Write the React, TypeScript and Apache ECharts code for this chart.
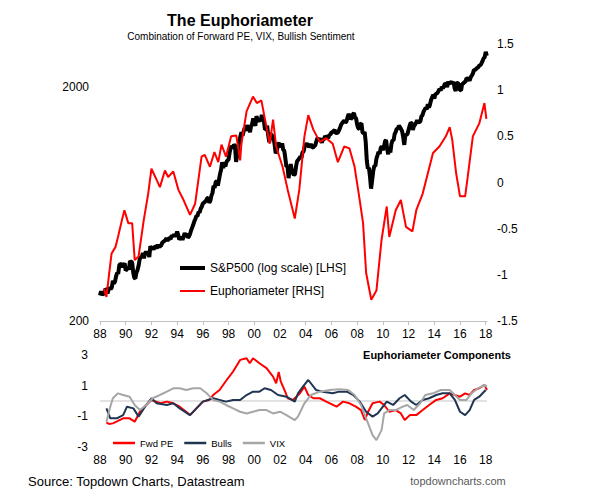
import React, { useEffect, useRef } from "react";
import * as echarts from "echarts";

// S&P 500, monthly, Jan 1988 .. Feb 2018
const spxStart = 1988;
const spx = [
  257, 268, 259, 261, 262, 274, 272, 262, 272, 279, 274, 278,
  297, 289, 295, 310, 321, 318, 346, 351, 349, 340, 346, 353,
  329, 332, 340, 331, 361, 358, 356, 323, 306, 304, 322, 330,
  344, 367, 375, 375, 390, 371, 388, 395, 388, 392, 375, 417,
  409, 413, 404, 415, 415, 408, 424, 414, 418, 419, 431, 436,
  439, 443, 452, 440, 450, 451, 448, 464, 459, 468, 462, 466,
  482, 467, 446, 451, 457, 444, 458, 475, 463, 472, 454, 459,
  470, 487, 501, 515, 533, 545, 562, 562, 584, 582, 605, 616,
  636, 640, 646, 654, 669, 671, 640, 652, 687, 705, 757, 741,
  786, 791, 757, 801, 848, 885, 954, 899, 947, 915, 955, 970,
  980, 1049, 1102, 1112, 1091, 1134, 1121, 957, 1017, 1099, 1164, 1229,
  1280, 1238, 1286, 1335, 1302, 1373, 1329, 1320, 1283, 1363, 1389, 1469,
  1394, 1366, 1499, 1452, 1421, 1455, 1431, 1518, 1437, 1429, 1315, 1320,
  1366, 1240, 1160, 1249, 1256, 1224, 1211, 1134, 1041, 1060, 1139, 1148,
  1130, 1107, 1147, 1077, 1067, 990, 912, 916, 815, 886, 936, 880,
  856, 841, 848, 917, 964, 975, 990, 1008, 996, 1051, 1058, 1112,
  1131, 1145, 1126, 1107, 1121, 1141, 1102, 1104, 1115, 1130, 1174, 1212,
  1181, 1204, 1181, 1157, 1192, 1191, 1234, 1220, 1229, 1207, 1249, 1248,
  1280, 1281, 1295, 1311, 1270, 1270, 1277, 1304, 1336, 1378, 1401, 1418,
  1438, 1407, 1421, 1482, 1531, 1503, 1455, 1474, 1527, 1549, 1481, 1468,
  1379, 1331, 1323, 1386, 1400, 1280, 1267, 1283, 1165, 969, 896, 903,
  826, 735, 798, 873, 919, 919, 987, 1021, 1057, 1036, 1096, 1115,
  1074, 1104, 1169, 1187, 1089, 1031, 1102, 1049, 1141, 1183, 1181, 1258,
  1286, 1327, 1326, 1364, 1345, 1321, 1292, 1219, 1131, 1253, 1247, 1258,
  1312, 1366, 1408, 1398, 1310, 1362, 1379, 1407, 1441, 1412, 1416, 1426,
  1498, 1515, 1569, 1598, 1631, 1606, 1686, 1633, 1682, 1757, 1806, 1848,
  1783, 1859, 1872, 1884, 1924, 1960, 1931, 2003, 1972, 2018, 2068, 2059,
  1995, 2105, 2068, 2086, 2107, 2063, 2104, 1972, 1920, 2079, 2080, 2044,
  1940, 1932, 2060, 2065, 2097, 2099, 2174, 2171, 2168, 2126, 2199, 2239,
  2279, 2364, 2363, 2384, 2412, 2423, 2470, 2472, 2519, 2575, 2648, 2674,
  2824, 2714,
];

// Euphoriameter composite [year, value] (RHS)
const euphoria = [
  [1988.3, -1.15], [1988.5, -1.24], [1988.7, -1.0], [1988.9, -0.77], [1989.2, -0.7],
  [1989.4, -0.59], [1989.7, -0.41], [1989.9, -0.3], [1990.2, -0.44], [1990.5, -0.44],
  [1990.7, -0.84], [1991.0, -0.8], [1991.4, -0.41], [1991.75, -0.12], [1992.0, 0.15],
  [1992.3, 0.06], [1992.66, -0.05], [1993.05, 0.13], [1993.3, 0.06], [1993.7, 0.12],
  [1994.1, -0.08], [1994.5, -0.19], [1995.0, -0.35], [1995.4, -0.23], [1995.9, 0.28],
  [1996.15, 0.3], [1996.55, 0.17], [1996.9, 0.33], [1997.2, 0.22], [1997.45, 0.41],
  [1997.8, 0.28], [1998.2, 0.5], [1998.6, 0.51], [1998.9, 0.24], [1999.0, 0.42],
  [1999.4, 0.77], [1999.9, 0.93], [2000.2, 0.86], [2000.55, 0.89], [2000.95, 0.6],
  [2001.2, 0.42], [2001.46, 0.68], [2001.7, 0.39], [2002.2, 0.17], [2002.6, -0.08],
  [2003.15, -0.39], [2003.5, -0.08], [2003.9, 0.5], [2004.2, 0.73], [2004.6, 0.57],
  [2005.1, 0.44], [2005.6, 0.48], [2006.1, 0.42], [2006.5, 0.22], [2007.0, 0.39],
  [2007.4, 0.37], [2007.8, 0.17], [2008.2, -0.19], [2008.46, -0.44], [2008.7, -0.98],
  [2009.1, -1.27], [2009.5, -1.17], [2009.9, -0.62], [2010.3, -0.26], [2010.5, -0.59],
  [2011.0, -0.3], [2011.4, -0.19], [2011.8, -0.48], [2012.3, -0.53], [2012.6, -0.3],
  [2013.1, -0.12], [2013.5, 0.1], [2013.9, 0.32], [2014.4, 0.39], [2014.9, 0.5],
  [2015.2, 0.6], [2015.4, 0.46], [2015.7, 0.1], [2016.0, -0.15], [2016.4, -0.15],
  [2016.6, 0.06], [2017.0, 0.5], [2017.5, 0.64], [2017.9, 0.86], [2018.05, 0.69],
];

// Components [year, z-score]
const fwdPE = [
  [1988.5, -1.4], [1988.7, -1.5], [1989.0, -1.46], [1989.4, -1.3], [1989.8, -1.13],
  [1990.3, -1.13], [1990.7, -1.35], [1991.1, -0.7], [1991.6, -0.26], [1992.0, 0.07],
  [1992.7, -0.15], [1993.2, -0.04], [1993.7, -0.15], [1994.2, -0.37], [1994.7, -0.7],
  [1995.0, -0.92], [1995.5, -0.48], [1996.0, -0.04], [1996.5, 0.07], [1996.8, 0.39],
  [1997.3, 0.72], [1997.85, 1.37], [1998.35, 1.92], [1998.9, 2.68], [1999.4, 2.79],
  [1999.65, 2.46], [1999.9, 2.79], [2000.4, 2.46], [2000.95, 2.14], [2001.46, 1.59],
  [2001.7, 1.16], [2001.9, 1.9], [2002.05, 1.3], [2002.4, 0.61], [2002.6, 0.18],
  [2003.0, 0.07], [2003.5, 0.45], [2003.9, 0.94], [2004.2, 0.39], [2004.6, 0.18],
  [2005.1, 0.18], [2005.6, -0.04], [2006.4, -0.37], [2006.9, -0.04], [2007.4, -0.15],
  [2007.9, -0.37], [2008.3, -0.59], [2008.6, -1.24], [2008.85, -0.7], [2009.2, -0.15],
  [2009.75, -0.04], [2010.1, -0.26], [2010.5, -0.7], [2011.0, -0.59], [2011.4, -0.81],
  [2011.7, -1.24], [2012.1, -0.92], [2012.6, -0.92], [2013.1, -0.59], [2013.6, -0.26],
  [2014.15, 0.07], [2014.65, 0.18], [2015.2, 0.5], [2015.6, 0.39], [2016.0, 0.28],
  [2016.4, 0.5], [2016.75, 0.39], [2017.1, 0.72], [2017.5, 0.83], [2017.9, 1.05],
  [2018.1, 0.72],
];

const bulls = [
  [1988.5, -0.48], [1988.8, -1.13], [1989.3, -1.13], [1989.8, -0.92], [1990.1, -0.37],
  [1990.6, -0.48], [1991.0, -1.02], [1991.5, -0.37], [1992.0, 0.18], [1992.4, -0.15],
  [1993.2, -0.26], [1993.7, -0.15], [1994.2, -0.48], [1995.0, -0.92], [1995.5, -0.48],
  [1996.0, -0.04], [1996.8, 0.18], [1997.3, 0.07], [1997.8, -0.04], [1998.35, 0.07],
  [1998.9, 0.07], [1999.4, 0.39], [1999.9, 0.61], [2000.4, 0.61], [2000.8, 0.83],
  [2001.3, 0.72], [2001.85, 0.39], [2002.5, 0.28], [2003.15, -0.04], [2003.4, 0.5],
  [2003.8, 0.95], [2004.2, 1.37], [2004.8, 0.72], [2005.3, 0.61], [2006.1, 0.5],
  [2006.6, 0.61], [2007.2, 0.61], [2007.7, 0.39], [2008.2, -0.04], [2008.7, -0.7],
  [2009.2, -1.02], [2009.6, -0.81], [2010.3, -0.04], [2010.8, -0.26], [2011.3, 0.18],
  [2011.7, 0.39], [2012.2, -0.04], [2012.6, -0.26], [2013.1, 0.07], [2013.6, 0.18],
  [2014.15, 0.39], [2014.65, 0.5], [2015.2, 0.5], [2015.6, 0.07], [2016.0, -0.7],
  [2016.4, -0.92], [2016.75, -0.59], [2017.1, 0.07], [2017.5, 0.28], [2018.0, 0.72],
];

const vix = [
  [1988.5, -1.35], [1988.8, -0.37], [1989.0, 0.18], [1989.4, 0.5], [1989.8, 0.39],
  [1990.3, 0.28], [1990.7, -0.26], [1991.1, -0.59], [1991.6, -0.26], [1992.1, 0.18],
  [1992.65, 0.39], [1993.2, 0.61], [1993.7, 0.83], [1994.2, 0.83], [1994.7, 0.72],
  [1995.25, 0.83], [1995.8, 0.83], [1996.3, 0.5], [1996.8, 0.07], [1997.3, -0.04],
  [1997.8, -0.26], [1998.35, -0.48], [1998.9, -0.7], [1999.4, -0.81], [1999.9, -0.7],
  [2000.4, -0.59], [2000.95, -0.59], [2001.46, -0.81], [2002.0, -0.7], [2002.5, -0.92],
  [2003.15, -1.24], [2003.4, -1.02], [2003.9, -0.15], [2004.4, 0.39], [2005.1, 0.61],
  [2005.85, 0.72], [2006.6, 0.76], [2007.3, 0.72], [2007.8, 0.39], [2008.3, -0.26],
  [2008.85, -1.46], [2009.2, -2.22], [2009.5, -2.55], [2009.9, -1.9], [2010.1, -0.81],
  [2010.5, -0.59], [2011.0, -0.59], [2011.55, -0.37], [2011.9, -0.26], [2012.4, -0.59],
  [2012.9, -0.15], [2013.3, 0.39], [2013.9, 0.5], [2014.5, 0.72], [2015.2, 0.72],
  [2015.6, 0.39], [2016.0, 0.07], [2016.5, 0.07], [2016.9, 0.5], [2017.4, 0.83],
  [2017.9, 1.05], [2018.1, 0.94],
];

const yearTicks = [1988, 1990, 1992, 1994, 1996, 1998, 2000, 2002, 2004, 2006, 2008, 2010, 2012, 2014, 2016, 2018];
const leftTicks = [200, 2000];
const compTicks = [-3, -1, 1, 3];

const FONT = "'Liberation Sans', Arial, sans-serif";

export default function App() {
  const ref = useRef<HTMLDivElement>(null);
  useEffect(() => {
    if (!ref.current) return;
    const chart = echarts.init(ref.current, null, { renderer: "svg" });
    const yr = (v: number) => String(Math.round(v) % 100).padStart(2, "0");
    const xCommon = {
      type: "value",
      min: 1988,
      max: 2018.1,
      splitLine: { show: false },
    };
    const legendText = (size: number) => ({ fontSize: size, color: "#000", fontFamily: FONT });
    chart.setOption({
      animation: false,
      textStyle: { fontFamily: FONT },
      grid: [
        { left: 100, right: 126, top: 44, height: 277 },
        { left: 100, right: 126, top: 355, height: 92 },
      ],
      xAxis: [
        {
          ...xCommon,
          gridIndex: 0,
          axisLine: { show: true, onZero: false, lineStyle: { color: "#c0c0c0", width: 1 } },
          axisTick: { show: true, length: 4, customValues: yearTicks, lineStyle: { color: "#c0c0c0" } },
          axisLabel: { customValues: yearTicks, formatter: yr, fontSize: 12, color: "#000", margin: 7 },
        },
        {
          ...xCommon,
          gridIndex: 1,
          axisLine: { show: false, onZero: false },
          axisTick: { show: false },
          axisLabel: { customValues: yearTicks, formatter: yr, fontSize: 12, color: "#000", margin: 7 },
        },
      ],
      yAxis: [
        {
          type: "log",
          logBase: 10,
          gridIndex: 0,
          position: "left",
          min: 200,
          max: 3050,
          axisLine: { show: false },
          axisTick: { show: false },
          splitLine: { show: false },
          axisLabel: { customValues: leftTicks, formatter: (v: number) => String(Math.round(v)), fontSize: 12, color: "#000", margin: 11 },
        },
        {
          type: "value",
          gridIndex: 0,
          position: "right",
          min: -1.5,
          max: 1.5,
          interval: 0.5,
          axisLine: { show: false },
          axisTick: { show: false },
          splitLine: { show: false },
          axisLabel: { fontSize: 12, color: "#000", margin: 10 },
        },
        {
          type: "value",
          gridIndex: 1,
          min: -3,
          max: 3,
          axisLine: { show: false },
          axisTick: { show: false },
          splitLine: { show: false },
          axisLabel: { customValues: compTicks, fontSize: 12, color: "#000", margin: 12 },
        },
      ],
      legend: [
        {
          data: ["S&P500 (log scale) [LHS]"],
          icon: "rect",
          left: 180,
          top: 262,
          padding: 0,
          itemWidth: 25,
          itemHeight: 4,
          selectedMode: false,
          textStyle: legendText(12),
        },
        {
          data: ["Euphoriameter [RHS]"],
          icon: "rect",
          left: 180,
          top: 285,
          padding: 0,
          itemWidth: 25,
          itemHeight: 2,
          selectedMode: false,
          textStyle: legendText(12),
        },
        {
          data: ["Fwd PE", "Bulls", "VIX"],
          icon: "rect",
          orient: "horizontal",
          left: 113,
          top: 438,
          padding: 0,
          itemWidth: 22,
          itemHeight: 2.5,
          itemGap: 11,
          selectedMode: false,
          textStyle: legendText(9.5),
        },
      ],
      graphic: [
        {
          type: "text",
          style: { text: "The Euphoriameter", x: 240, y: 20, textAlign: "center", textVerticalAlign: "middle", font: `bold 16px ${FONT}`, fill: "#000" },
        },
        {
          type: "text",
          style: { text: "Combination of Forward PE, VIX, Bullish Sentiment", x: 241, y: 36, textAlign: "center", textVerticalAlign: "middle", font: `10px ${FONT}`, fill: "#000" },
        },
        {
          type: "text",
          style: { text: "Euphoriameter Components", x: 437, y: 355, textAlign: "center", textVerticalAlign: "middle", font: `bold 11px ${FONT}`, fill: "#000" },
        },
        {
          type: "text",
          style: { text: "Source: Topdown Charts, Datastream", x: 28, y: 481, textAlign: "left", textVerticalAlign: "middle", font: `13px ${FONT}`, fill: "#000" },
        },
        {
          type: "text",
          style: { text: "topdowncharts.com", x: 458, y: 481, textAlign: "center", textVerticalAlign: "middle", font: `11px ${FONT}`, fill: "#595959" },
        },
      ],
      series: [
        {
          name: "S&P500 (log scale) [LHS]",
          type: "line",
          xAxisIndex: 0,
          yAxisIndex: 0,
          data: spx.map((v, i) => [spxStart + i / 12, v]),
          symbol: "none",
          color: "#000",
          lineStyle: { color: "#000", width: 4 },
          z: 2,
        },
        {
          name: "Euphoriameter [RHS]",
          type: "line",
          xAxisIndex: 0,
          yAxisIndex: 1,
          data: euphoria,
          symbol: "none",
          color: "#ff0000",
          lineStyle: { color: "#ff0000", width: 2 },
          z: 3,
        },
        {
          name: "Fwd PE",
          type: "line",
          xAxisIndex: 1,
          yAxisIndex: 2,
          data: fwdPE,
          symbol: "none",
          color: "#ff0000",
          lineStyle: { color: "#ff0000", width: 2 },
          z: 3,
          markLine: {
            silent: true,
            symbol: ["none", "none"],
            label: { show: false },
            lineStyle: { color: "#d9d9d9", width: 1.5, type: "solid" },
            data: [{ yAxis: 0 }],
            z: 1,
          },
        },
        {
          name: "Bulls",
          type: "line",
          xAxisIndex: 1,
          yAxisIndex: 2,
          data: bulls,
          symbol: "none",
          color: "#1f3552",
          lineStyle: { color: "#1f3552", width: 2 },
          z: 4,
        },
        {
          name: "VIX",
          type: "line",
          xAxisIndex: 1,
          yAxisIndex: 2,
          data: vix,
          symbol: "none",
          color: "#a6a6a6",
          lineStyle: { color: "#a6a6a6", width: 2 },
          z: 5,
        },
      ],
    });
    return () => chart.dispose();
  }, []);
  return (
    <div
      ref={ref}
      style={{ position: "absolute", left: 0, top: 0, width: 613, height: 498, background: "#fff" }}
    />
  );
}
